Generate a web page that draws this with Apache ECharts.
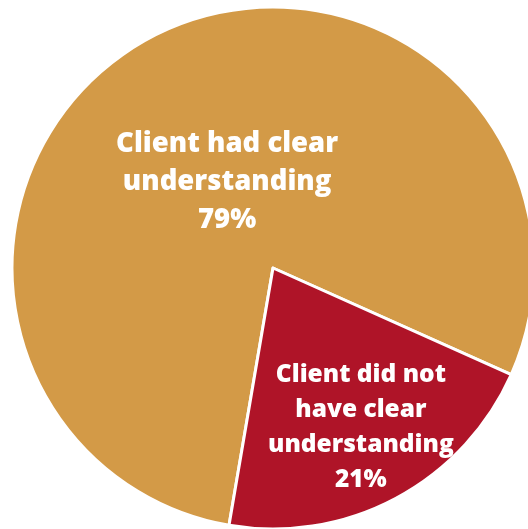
<!DOCTYPE html>
<html>
<head>
<meta charset="utf-8">
<script src="https://cdn.jsdelivr.net/npm/echarts@6/dist/echarts.min.js"></script>
<style>
  html, body { margin: 0; padding: 0; background: #ffffff; }
  #chart { width: 528px; height: 529px; }
</style>
</head>
<body>
<div id="chart"></div>
<script>
// Share of clients by whether they had a clear understanding
const categories = ['Client had clear\nunderstanding', 'Client did not\nhave clear\nunderstanding'];
const shares = [79, 21];
const colors = ['#D39A47', '#AF1428'];

const chart = echarts.init(document.getElementById('chart'), null, { renderer: 'canvas' });

const labelStyles = [
  { fontSize: 27.5, lineHeight: 38, offset: [17, 32] },
  { fontSize: 24.5, lineHeight: 35, offset: [25, 42] }
];

chart.setOption({
  animation: false,
  backgroundColor: '#ffffff',
  series: [{
    type: 'pie',
    center: [273, 268],
    radius: [0, 261],
    startAngle: 260.3,
    clockwise: true,
    avoidLabelOverlap: false,
    itemStyle: { borderColor: '#ffffff', borderWidth: 3 },
    label: {
      show: true,
      position: 'inside',
      color: '#ffffff',
      fontFamily: '"Open Sans", sans-serif',
      fontWeight: 800,
      align: 'center',
      formatter: p => p.name + '\n' + p.value + '%'
    },
    labelLine: { show: false },
    emphasis: { disabled: true },
    data: categories.map((name, i) => ({
      name,
      value: shares[i],
      itemStyle: { color: colors[i] },
      label: labelStyles[i]
    }))
  }]
});
</script>
</body>
</html>
